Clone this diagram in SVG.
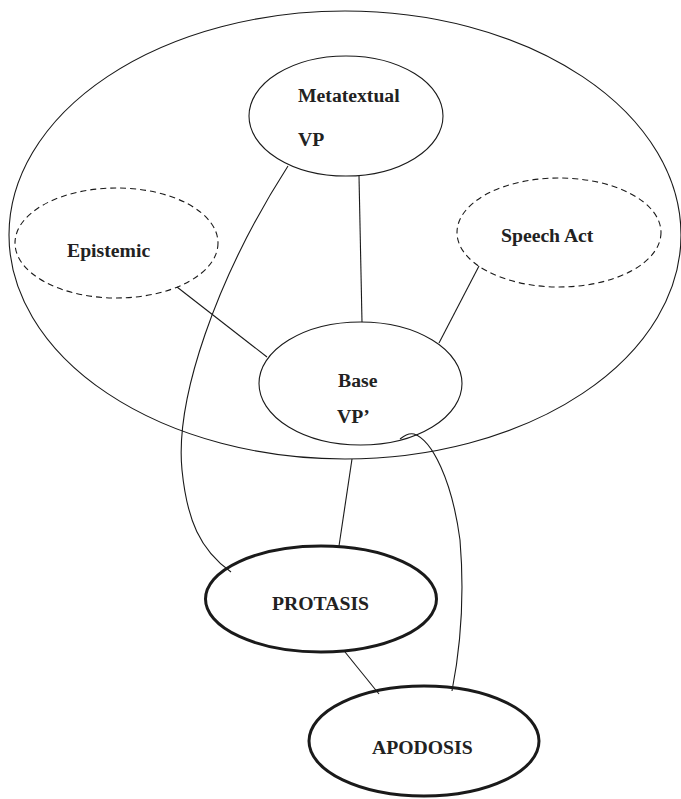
<svg xmlns="http://www.w3.org/2000/svg" width="681" height="799" viewBox="0 0 681 799">
<style>
.n{fill:none;stroke:#1a1a1a;stroke-width:1.1}
.d{fill:none;stroke:#1a1a1a;stroke-width:1.1;stroke-dasharray:6 4}
.k{fill:none;stroke:#1a1a1a;stroke-width:3}
.c{fill:none;stroke:#1a1a1a;stroke-width:1.1}
text{font-family:"Liberation Serif","Times New Roman",serif;font-weight:bold;font-size:19.7px;fill:#222}
</style>
<rect width="681" height="799" fill="#fff"/>
<g id="outer"><ellipse class="n" cx="345" cy="235" rx="336" ry="224"/></g>
<g id="connectors">
<line class="c" x1="359" y1="176" x2="362" y2="322"/>
<line class="c" x1="177" y1="287" x2="267" y2="357"/>
<line class="c" x1="479" y1="266" x2="439" y2="343"/>
<line class="c" x1="352" y1="459" x2="339" y2="546"/>
<line class="c" x1="345" y1="652" x2="379" y2="694"/>
<path class="c" d="M288,166 C215,280 175,400 182,470 C187,520 200,550 231,572"/>
<path class="c" d="M400,439 C404,436 408,433 414,434 C432,440 452,480 460,540 C465,600 460,650 452,691"/>
</g>
<g id="metatextual"><ellipse class="n" cx="346" cy="116" rx="97" ry="60"/><text x="298" y="102">Metatextual</text><text x="298" y="146">VP</text></g>
<g id="epistemic"><ellipse class="d" cx="116.5" cy="243" rx="101.5" ry="55"/><text x="67" y="257">Epistemic</text></g>
<g id="speechact"><ellipse class="d" cx="559" cy="232.5" rx="102" ry="54.5"/><text x="501" y="242">Speech Act</text></g>
<g id="base"><ellipse class="n" cx="360.5" cy="383.5" rx="101.5" ry="61.5"/><text x="338" y="387">Base</text><text x="337" y="423">VP’</text></g>
<g id="protasis"><ellipse class="k" cx="321" cy="599" rx="115.5" ry="53"/><text x="272" y="610">PROTASIS</text></g>
<g id="apodosis"><ellipse class="k" cx="424" cy="741" rx="115" ry="55"/><text x="372" y="754">APODOSIS</text></g>
</svg>
